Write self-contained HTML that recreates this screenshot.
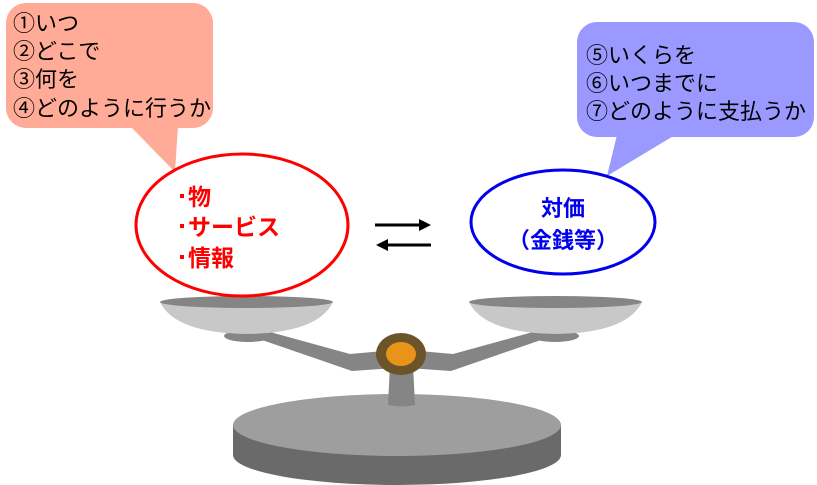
<!DOCTYPE html>
<html><head><meta charset="utf-8"><style>
html,body{margin:0;padding:0;background:#fff;}
body{width:817px;height:485px;overflow:hidden;position:relative;font-family:"Liberation Sans","Noto Sans CJK JP",sans-serif;}
svg{position:absolute;left:0;top:0;}
</style></head><body>
<svg width="817" height="485" viewBox="0 0 817 485" font-family="Liberation Sans, Noto Sans CJK JP, sans-serif">
<path d="M233 425 L233 455 A164 30 0 0 0 561 455 L561 425 Z" fill="#6a6a6a"/>
<ellipse cx="397" cy="425" rx="164" ry="31" fill="#9e9e9e"/>
<path d="M390 365 L413 365 L415 405 Q402 408 388 405 Z" fill="#858585"/>
<polygon points="270,332 350,354 395,350 395,368 352,371 262,340" fill="#858585"/>
<polygon points="533,332 453,354 408,350 408,368 451,371 541,340" fill="#858585"/>
<ellipse cx="248" cy="336" rx="24" ry="6" fill="#858585"/>
<ellipse cx="555" cy="336" rx="24" ry="6" fill="#858585"/>
<path d="M160 302 Q175 333 247 334 Q318 333 333 302 Z" fill="#c8c8c8"/>
<ellipse cx="246.5" cy="302" rx="86.5" ry="6" fill="#858585"/>
<path d="M469 302 Q484 333 556 334 Q627 333 642 302 Z" fill="#c8c8c8"/>
<ellipse cx="555.5" cy="302" rx="86.5" ry="6" fill="#858585"/>
<ellipse cx="401" cy="354" rx="25" ry="21" fill="#6b5428"/>
<ellipse cx="401" cy="354" rx="15" ry="12" fill="#e8931a"/>
<rect x="6" y="3" width="207" height="125" rx="20" fill="#ffab97"/>
<polygon points="130,126 178,126 175,172" fill="#ffab97"/>
<g font-size="22" fill="#000">
<text x="13" y="31">①いつ</text>
<text x="13" y="59">②どこで</text>
<text x="13" y="87">③何を</text>
<text x="13" y="116">④どのように行うか</text>
</g>
<rect x="577" y="22" width="237" height="115" rx="20" fill="#9999ff"/>
<polygon points="617,135 675,135 607,176" fill="#9999ff"/>
<g font-size="22" fill="#000">
<text x="586" y="63">⑤いくらを</text>
<text x="586" y="91">⑥いつまでに</text>
<text x="586" y="119">⑦どのように支払うか</text>
</g>
<ellipse cx="242" cy="225" rx="106" ry="71" fill="#fff" stroke="#ff0000" stroke-width="3"/>
<g fill="#ff0000">
<rect x="180" y="194" width="4" height="4"/>
<rect x="180" y="224" width="4" height="4"/>
<rect x="180" y="255" width="4" height="4"/>
</g>
<g font-size="23" font-weight="bold" fill="#ff0000">
<text x="188" y="205">物</text>
<text x="188" y="235">サービス</text>
<text x="188" y="266">情報</text>
</g>
<ellipse cx="563" cy="222" rx="92" ry="52" fill="#fff" stroke="#0000ee" stroke-width="3"/>
<g font-size="22" font-weight="bold" fill="#0000ee" text-anchor="middle">
<text x="563" y="216">対価</text>
<text x="563" y="248">（金銭等）</text>
</g>
<line x1="375" y1="225" x2="422" y2="225" stroke="#000" stroke-width="3"/>
<polygon points="419,219 431,225 419,231" fill="#000"/>
<line x1="385" y1="245" x2="431" y2="245" stroke="#000" stroke-width="3"/>
<polygon points="388,239 376,245 388,251" fill="#000"/>
</svg>
</body></html>
